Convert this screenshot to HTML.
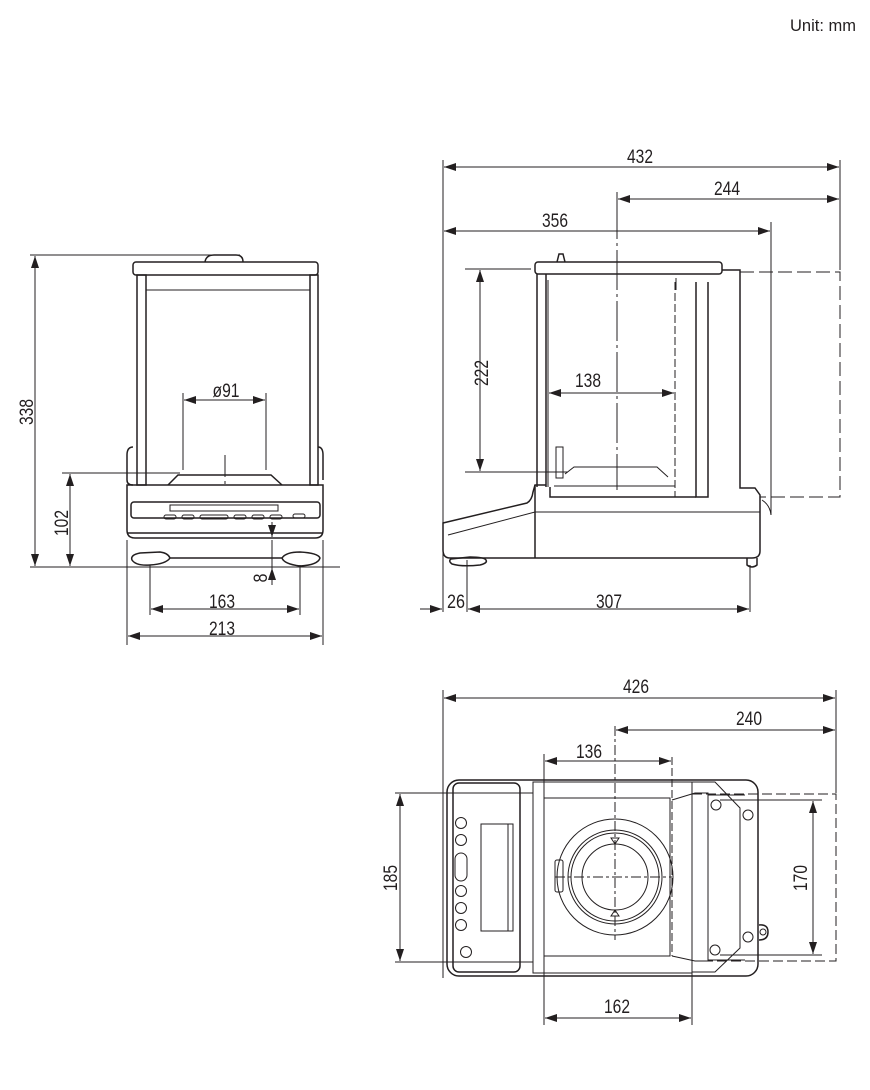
<!DOCTYPE html>
<html><head><meta charset="utf-8"><style>
html,body{margin:0;padding:0;background:#fff;}
svg{display:block;font-family:"Liberation Sans",sans-serif;}
</style></head><body>
<svg width="870" height="1090" viewBox="0 0 870 1090" xmlns="http://www.w3.org/2000/svg">
<defs>
<marker id="a" viewBox="0 0 12 8" refX="12" refY="4" markerWidth="12" markerHeight="8" markerUnits="userSpaceOnUse" orient="auto-start-reverse"><path d="M0,0 L12,4 L0,8z" fill="#231f20"/></marker>
</defs>
<g fill="#231f20" font-size="17">
<text x="790" y="31" textLength="66" lengthAdjust="spacingAndGlyphs">Unit: mm</text>
</g>

<!-- ========== FRONT VIEW ========== -->
<g fill="none" stroke="#231f20" stroke-width="1.5">
<path d="M205,262 Q206,255 214,255 L236,255 Q243,255 243,262"/>
<rect x="133" y="262" width="185" height="13" rx="3"/>
<rect x="137" y="275" width="9" height="210"/>
<rect x="310" y="275" width="8" height="210"/>
<path d="M133,447 Q127,447 127,455 L127,480 Q127,485 133,485"/>
<path d="M318,447 Q323,447 323,455 L323,480"/>
<path d="M127,485 L323,485 L323,530 Q323,538 315,538 L135,538 Q127,538 127,530 Z"/>
<rect x="131" y="502" width="189" height="16" rx="3"/>
<path d="M127,533 L323,533"/>
<path d="M140,553 Q130,555 132,560 Q136,566 150,565 Q166,564 170,558 Q168,553 160,552 Z"/>
<path d="M282,558 Q286,552 300,552 Q318,553 320,558 Q318,565 300,566 Q284,564 282,558 Z"/>
<path d="M170,558 L282,558"/>
<path d="M168,485 L178,475 L271,475 L282,485"/>
</g>
<g fill="none" stroke="#231f20" stroke-width="1">
<path d="M146,290 L310,290"/>
<rect x="170" y="505" width="108" height="6"/>
<rect x="164" y="515" width="12" height="4" rx="2"/><rect x="182" y="515" width="12" height="4" rx="2"/>
<rect x="200" y="515" width="28" height="4" rx="2"/><rect x="234" y="515" width="12" height="4" rx="2"/>
<rect x="252" y="515" width="12" height="4" rx="2"/><rect x="270" y="515" width="12" height="4" rx="2"/>
<rect x="293" y="514" width="12" height="4" rx="2"/>
<path d="M225,455 L225,485" stroke-dasharray="22,4,3,4"/>
<path d="M30,255 L240,255 M30,567 L340,567 M62,473 L180,473"/>
<path d="M183,393 L183,470 M266,393 L266,470"/>
<path d="M150,565 L150,615 M300,565 L300,615 M127,540 L127,645 M323,540 L323,645"/>
<path d="M272,540 L272,585"/>
</g>
<g stroke="#231f20" stroke-width="1" fill="none">
<path d="M35,256 L35,566" marker-start="url(#a)" marker-end="url(#a)"/>
<path d="M70,474 L70,566" marker-start="url(#a)" marker-end="url(#a)"/>
<path d="M184,400 L265,400" marker-start="url(#a)" marker-end="url(#a)"/>
<path d="M151,609 L299,609" marker-start="url(#a)" marker-end="url(#a)"/>
<path d="M128,636 L322,636" marker-start="url(#a)" marker-end="url(#a)"/>
<path d="M272,522 L272,537" marker-end="url(#a)"/>
<path d="M272,582 L272,568" marker-end="url(#a)"/>
</g>
<g fill="#231f20" font-size="19" text-anchor="middle" lengthAdjust="spacingAndGlyphs">
<text transform="translate(33,412) rotate(-90)" textLength="26" lengthAdjust="spacingAndGlyphs">338</text>
<text transform="translate(68,523) rotate(-90)" textLength="26" lengthAdjust="spacingAndGlyphs">102</text>
<text x="226" y="397" textLength="27" lengthAdjust="spacingAndGlyphs">ø91</text>
<text x="222" y="608" textLength="26" lengthAdjust="spacingAndGlyphs">163</text>
<text x="222" y="635" textLength="26" lengthAdjust="spacingAndGlyphs">213</text>
<text transform="translate(267,578) rotate(-90)" textLength="9" lengthAdjust="spacingAndGlyphs">8</text>
</g>

<!-- ========== SIDE VIEW ========== -->
<g fill="none" stroke="#231f20" stroke-width="1.5">
<path d="M557,262 L559,254 L563,254 L565,262"/>
<rect x="535" y="262" width="187" height="12" rx="3"/>
<path d="M537,274 L537,487 M546,274 L546,487"/>
<path d="M722,270 L740,270 L740,488 L755,488 L760,495 L760,551 Q760,558 752,558 L450,558 Q443,558 443,550 L443,523 L527,503 Q532,500 533,492 L535,485 L546,485"/>
<path d="M535,485 L535,558"/>
<path d="M696,282 L696,497 L708,497 L708,282"/>
<path d="M550,487 L550,497 L696,497"/>
<path d="M451,559 Q448,561 452,564 Q462,567 480,565 Q488,563 486,560 Q484,557 470,557 Z"/>
<path d="M747,558 L747,565 Q752,569 757,565 L757,558"/>
</g>
<g fill="none" stroke="#231f20" stroke-width="1">
<path d="M448,535 L535,512 L760,512"/>
<path d="M548,280 L548,487 M676,278 L676,290"/>
<path d="M675,282 L675,497" stroke-dasharray="8,3"/>
<path d="M740,272 L840,272 L840,497 L760,497" stroke-dasharray="14,5"/>
<path d="M556,447 L563,447 L563,478 L556,478 Z"/>
<path d="M565,474 L574,467 L657,467 L668,477 M554,486 L675,486"/>
<path d="M617,199 L617,490" stroke-dasharray="40,4,3,4"/>
<path d="M443,160 L443,612 M840,160 L840,270 M617,192 L617,205 M771,222 L771,515 M467,560 L467,612 M750,565 L750,612"/>
<path d="M465,269 L531,269 M465,472 L568,472"/>
<path d="M762,500 Q770,505 771,515"/>
</g>
<g stroke="#231f20" stroke-width="1" fill="none">
<path d="M444,167 L839,167" marker-start="url(#a)" marker-end="url(#a)"/>
<path d="M618,199 L839,199" marker-start="url(#a)" marker-end="url(#a)"/>
<path d="M444,231 L770,231" marker-start="url(#a)" marker-end="url(#a)"/>
<path d="M480,270 L480,471" marker-start="url(#a)" marker-end="url(#a)"/>
<path d="M549,393 L674,393" marker-start="url(#a)" marker-end="url(#a)"/>
<path d="M420,609 L442,609" marker-end="url(#a)"/>
<path d="M468,609 L749,609" marker-start="url(#a)" marker-end="url(#a)"/>
</g>
<g fill="#231f20" font-size="19" text-anchor="middle">
<text x="640" y="163" textLength="26" lengthAdjust="spacingAndGlyphs">432</text>
<text x="727" y="195" textLength="26" lengthAdjust="spacingAndGlyphs">244</text>
<text x="555" y="227" textLength="26" lengthAdjust="spacingAndGlyphs">356</text>
<text transform="translate(488,373) rotate(-90)" textLength="26" lengthAdjust="spacingAndGlyphs">222</text>
<text x="588" y="387" textLength="26" lengthAdjust="spacingAndGlyphs">138</text>
<text x="456" y="608" textLength="18" lengthAdjust="spacingAndGlyphs">26</text>
<text x="609" y="608" textLength="26" lengthAdjust="spacingAndGlyphs">307</text>
</g>

<!-- ========== TOP VIEW ========== -->
<g fill="none" stroke="#231f20" stroke-width="1.5">
<rect x="447" y="780" width="311" height="196" rx="12"/>
<rect x="453" y="783" width="67" height="189" rx="6"/>
<path d="M759,925 Q768,924 768,932 Q768,940 759,940"/>
</g>
<g fill="none" stroke="#231f20" stroke-width="1">
<rect x="481" y="824" width="32" height="107"/>
<path d="M508,824 L508,931"/>
<circle cx="461" cy="823" r="5.5"/><circle cx="461" cy="840" r="5.5"/>
<rect x="455" y="853" width="12" height="28" rx="6"/>
<circle cx="461" cy="891" r="5.5"/><circle cx="461" cy="908" r="5.5"/><circle cx="461" cy="925" r="5.5"/>
<circle cx="466" cy="952" r="5.5"/>
<rect x="533" y="782" width="159" height="191"/>
<rect x="544" y="798" width="126" height="158"/>
<path d="M692,782 L715,782 L740,808 L740,948 L715,972 L692,972"/>
<path d="M672,800 L695,793 L708,793 L708,961 L695,961 L672,956"/>
<path d="M708,795 L745,795 M708,960 L745,960"/>
<circle cx="615" cy="877" r="58"/>
<circle cx="615" cy="877" r="47"/>
<circle cx="615" cy="877" r="44"/>
<circle cx="615" cy="877" r="33"/>
<rect x="555" y="860" width="8" height="32" rx="2"/>
<path d="M611,838 L619,838 L615,844 Z M611,916 L619,916 L615,910 Z"/>
<circle cx="716" cy="805" r="5"/><circle cx="748" cy="815" r="5"/>
<circle cx="748" cy="937" r="5"/><circle cx="715" cy="950" r="5"/>
<circle cx="763" cy="932" r="3"/>
<path d="M615,726 L615,940" stroke-dasharray="10,3,3,3"/>
<path d="M555,877 L672,877" stroke-dasharray="10,3,3,3"/>
<path d="M672,757 L672,956" stroke-dasharray="8,3"/>
<path d="M692,794 L836,794 L836,961 L708,961" stroke-dasharray="10,4"/>
<path d="M443,690 L443,978 M836,690 L836,793 M544,754 L544,1025 M692,960 L692,1025"/>
<path d="M395,793 L533,793 M395,962 L533,962 M720,800 L822,800 M720,955 L822,955"/>
</g>
<g stroke="#231f20" stroke-width="1" fill="none">
<path d="M444,698 L835,698" marker-start="url(#a)" marker-end="url(#a)"/>
<path d="M616,730 L835,730" marker-start="url(#a)" marker-end="url(#a)"/>
<path d="M545,761 L671,761" marker-start="url(#a)" marker-end="url(#a)"/>
<path d="M400,794 L400,961" marker-start="url(#a)" marker-end="url(#a)"/>
<path d="M813,801 L813,954" marker-start="url(#a)" marker-end="url(#a)"/>
<path d="M545,1018 L691,1018" marker-start="url(#a)" marker-end="url(#a)"/>
</g>
<g fill="#231f20" font-size="19" text-anchor="middle">
<text x="636" y="693" textLength="26" lengthAdjust="spacingAndGlyphs">426</text>
<text x="749" y="725" textLength="26" lengthAdjust="spacingAndGlyphs">240</text>
<text x="589" y="758" textLength="26" lengthAdjust="spacingAndGlyphs">136</text>
<text transform="translate(397,878) rotate(-90)" textLength="26" lengthAdjust="spacingAndGlyphs">185</text>
<text transform="translate(807,878) rotate(-90)" textLength="26" lengthAdjust="spacingAndGlyphs">170</text>
<text x="617" y="1013" textLength="26" lengthAdjust="spacingAndGlyphs">162</text>
</g>
</svg>
</body></html>
